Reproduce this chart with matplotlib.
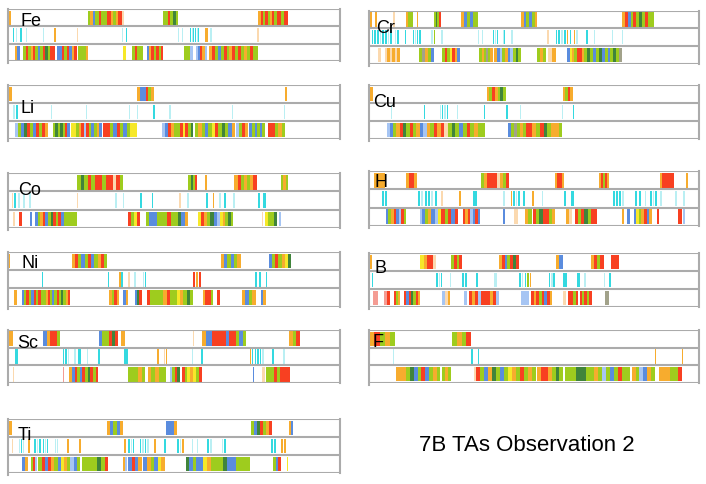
import matplotlib
matplotlib.use("Agg")
import matplotlib.pyplot as plt

# ---- colour codes used by the stripe data ----
COLORS = {
    "g": "#96c80a", "r": "#f8300e", "o": "#f7a51c", "b": "#4c82dc",
    "c": "#22d6de", "k": "#b4eef2", "y": "#f6e616", "d": "#2f7a2a",
    "l": "#9fc0f2", "p": "#fbd6a8", "m": "#9a9a80", "s": "#f4948a",
}

# ---- data: (start, end, colour sequence) on a 0..995 scale per row ----
FE_TOP = [(2, 7, "o"), (240, 347, "gobggrgggrrogorrp"), (463, 510, "ggrgdg"), (750, 840, "orgrgorgrrgrr")]
FE_MID = [(13, 17, "c"), (23, 27, "k"), (35, 41, "c"), (53, 55, "k"), (103, 107, "k"), (138, 143, "o"),
          (205, 208, "p"), (340, 345, "k"), (353, 357, "c"), (508, 512, "k"), (520, 524, "k"),
          (545, 575, "ckcckc"), (590, 600, "o"), (605, 610, "k"), (747, 751, "p")]
FE_BOT = [(20, 35, "ob"), (45, 140, "grgorgbgrdgrr"), (145, 205, "bbrgrbor"), (210, 240, "gggo"),
          (345, 353, "y"), (370, 405, "grgg"), (415, 465, "borgrgr"), (528, 555, "ggl"),
          (563, 595, "lbrol"), (603, 750, "orgbgrgorgrgogrgg")]

LI_TOP = [(0, 10, "o"), (387, 437, "obbrgo"), (830, 835, "o")]
LI_MID = [(15, 20, "k"), (23, 30, "c"), (128, 131, "k"), (233, 237, "k"), (362, 365, "k"), (385, 388, "k"),
          (435, 440, "c"), (482, 487, "k"), (672, 675, "k"), (827, 831, "k")]
LI_BOT = [(20, 120, "lgbdrgbrgro"), (133, 185, "gdgdgrb"), (188, 280, "yygorlrgbgob"), (283, 387, "rrgbrgbgyy"),
          (462, 523, "lbroggr"), (523, 555, "yrgd"), (560, 680, "gogbgyrgdgbo"), (683, 720, "lgro"),
          (723, 770, "bgbgbg"), (780, 830, "rrgog")]

CO_TOP = [(0, 3, "o"), (207, 345, "gdgrgrrgrrprg"), (540, 567, "gdgr"), (590, 595, "o"),
          (678, 745, "orgogor"), (817, 840, "gog")]
CO_MID = [(10, 15, "p"), (17, 23, "c"), (30, 35, "k"), (45, 50, "k"), (63, 67, "k"), (207, 210, "p"),
          (320, 325, "k"), (343, 347, "k"), (395, 400, "c"), (430, 435, "c"), (513, 518, "p"),
          (535, 541, "k"), (593, 598, "c"), (613, 618, "o"), (633, 637, "k"), (647, 652, "c"),
          (675, 680, "k"), (748, 755, "c"), (765, 772, "c")]
CO_BOT = [(15, 19, "p"), (33, 41, "r"), (65, 70, "b"), (80, 205, "bgorbgdrgrbggggg"), (358, 395, "rgyr"),
          (412, 433, "gb"), (435, 540, "bgggrggdbo"), (570, 595, "yro"), (597, 635, "gdbl"),
          (635, 675, "yogdg"), (760, 765, "p"), (770, 805, "yggd"), (813, 817, "l")]

NI_TOP = [(0, 5, "o"), (190, 297, "orgbgrbgorg"), (637, 697, "obgbgo"), (783, 847, "bgrgoyd")]
NI_MID = [(100, 105, "c"), (298, 303, "c"), (333, 345, "oc"), (360, 365, "p"), (378, 383, "k"),
          (403, 415, "kc"), (555, 580, "ror"), (740, 747, "c"), (753, 757, "c"), (772, 777, "c")]
NI_BOT = [(17, 25, "o"), (40, 105, "bgrgbrgrg"), (105, 185, "gorgbgrgdgor"), (303, 333, "ogro"),
          (345, 360, "bo"), (380, 400, "bdr"), (415, 555, "rggggorggyogdg"), (583, 615, "orrg"),
          (625, 635, "r"), (700, 743, "obgo"), (757, 773, "bo")]

SC_TOP = [(0, 15, "o"), (105, 155, "borrg"), (273, 330, "bggrdr"), (337, 350, "o"), (555, 558, "p"),
          (582, 713, "obbrrrrbrrgbg"), (843, 875, "ogr")]
SC_MID = [(20, 30, "c"), (163, 185, "cck"), (197, 203, "k"), (210, 217, "c"), (237, 240, "k"),
          (270, 275, "c"), (348, 358, "c"), (445, 451, "o"), (467, 477, "po"), (550, 555, "k"),
          (578, 583, "c"), (725, 735, "oc"), (740, 770, "ccck"), (790, 797, "c"), (825, 829, "k")]
SC_BOT = [(13, 17, "p"), (165, 168, "s"), (183, 270, "obrgbrgdrgr"), (360, 410, "gggog"),
          (418, 473, "ogogg"), (485, 515, "lgrd"), (520, 580, "rgyoygr"), (733, 738, "b"),
          (760, 770, "p"), (773, 797, "gg"), (797, 845, "rgrrr")]

TI_TOP = [(0, 10, "o"), (297, 343, "obgbo"), (473, 507, "bbo"), (727, 790, "gbdrgor"), (843, 853, "ob")]
TI_MID = [(10, 15, "p"), (33, 50, "kck"), (60, 65, "o"), (77, 100, "ckc"), (103, 122, "ckc"),
          (140, 150, "kk"), (177, 182, "o"), (213, 219, "o"), (347, 353, "o"), (360, 380, "ckc"),
          (395, 425, "ckck"), (437, 442, "o"), (467, 472, "c"), (507, 530, "cko"), (547, 555, "ok"),
          (565, 570, "k"), (597, 615, "ck"), (640, 655, "kc"), (788, 805, "cc"), (818, 835, "oo")]
TI_BOT = [(40, 60, "bo"), (68, 85, "grl"), (90, 215, "grbrogbyoglbg"), (220, 300, "ggggdgr"),
          (343, 355, "ol"), (360, 400, "brbo"), (405, 470, "bogbyo"), (533, 585, "dbgbb"),
          (585, 655, "yogggd"), (657, 725, "bbggg"), (795, 817, "gbr"), (835, 840, "y")]

CR_TOP = [(2, 9, "o"), (17, 22, "o"), (72, 77, "p"), (110, 132, "ogg"), (144, 148, "o"), (194, 217, "gdgr"),
          (277, 329, "obgbgg"), (457, 507, "obgbgo"), (762, 857, "orbgrgdgrgg")]
CR_MID = [(7, 72, "ccckcckc"), (77, 92, "kc"), (107, 112, "c"), (132, 157, "ckcc"), (187, 202, "kg"),
          (217, 222, "k"), (327, 332, "k"), (340, 344, "k"), (372, 392, "ckc"), (402, 412, "kc"),
          (427, 432, "k"), (537, 542, "p"), (562, 612, "cckcoc"), (617, 632, "ok"), (652, 658, "c"),
          (677, 682, "k"), (732, 736, "k"), (762, 766, "k")]
CR_BOT = [(27, 34, "p"), (47, 92, "popopo"), (150, 194, "gmogb"), (220, 272, "grgyrob"),
          (332, 372, "gogmgo"), (377, 457, "oblgoblgdg"), (507, 532, "gog"), (540, 562, "po"),
          (597, 632, "byogr"), (632, 657, "rog"), (657, 762, "dgbgdbgbgdgm")]

CU_TOP = [(2, 10, "o"), (354, 412, "ogrogdg"), (584, 614, "ogro")]
CU_MID = [(64, 67, "k"), (165, 169, "c"), (212, 240, "kckc"), (265, 268, "k"), (347, 350, "c"),
          (412, 417, "c"), (455, 458, "k"), (580, 584, "k"), (614, 618, "c")]
CU_BOT = [(52, 72, "lb"), (72, 152, "gordgrgo"), (152, 237, "blogrorp"), (237, 350, "gdgbgrgogg"),
          (417, 492, "bgmgogrr"), (492, 582, "ogrdgoog")]

H_TOP = [(14, 47, "oo"), (112, 144, "orro"), (337, 422, "gorrrpogr"), (559, 587, "orro"),
         (692, 722, "orgro"), (875, 920, "orrrr"), (954, 960, "o")]
H_MID = [(37, 57, "cc"), (147, 207, "ckcckc"), (217, 222, "p"), (270, 277, "o"), (314, 324, "c"),
         (404, 409, "k"), (427, 457, "ockc"), (464, 469, "c"), (490, 496, "o"), (520, 524, "k"),
         (587, 594, "c"), (608, 618, "c"), (734, 772, "ccck"), (802, 822, "cc"), (830, 834, "k"),
         (847, 869, "ckc"), (878, 884, "k"), (922, 927, "k"), (947, 952, "k")]
H_BOT = [(50, 112, "bgorblrg"), (152, 167, "lb"), (167, 267, "goblyrgrbr"), (282, 334, "rorlbrb"),
         (404, 409, "b"), (435, 447, "p"), (469, 490, "og"), (494, 560, "rgdrrgo"), (592, 612, "op"),
         (620, 687, "rgrdgrr"), (762, 769, "o"), (777, 787, "b"), (797, 852, "bygorbo"),
         (867, 872, "r"), (932, 942, "r"), (947, 952, "l")]

B_TOP = [(0, 7, "o"), (154, 202, "yorrp"), (247, 280, "grgr"), (390, 452, "orbgrdr"), (562, 584, "ob"),
         (667, 707, "orgr"), (730, 752, "rr")]
B_MID = [(7, 12, "c"), (202, 222, "ckc"), (242, 247, "k"), (280, 297, "cc"), (322, 328, "c"),
         (377, 384, "k"), (452, 492, "ckcgo"), (542, 562, "ckc"), (585, 597, "c"), (627, 634, "c"),
         (647, 652, "k"), (707, 712, "k"), (722, 728, "c")]
B_BOT = [(10, 27, "ss"), (44, 62, "sr"), (75, 94, "rgo"), (105, 154, "rbrdgro"), (220, 244, "lpo"),
         (287, 294, "l"), (300, 390, "rorlrrrorl"), (457, 482, "ll"), (487, 552, "rorgrbro"),
         (585, 592, "p"), (600, 630, "rrgr"), (634, 670, "rgrgr"), (712, 722, "m")]

F_TOP = [(0, 77, "orgog"), (249, 307, "gogr")]
F_MID = [(72, 75, "k"), (307, 314, "c"), (327, 332, "c"), (860, 864, "o"), (942, 946, "o")]
F_BOT = [(80, 112, "ooo"), (112, 214, "gdbgrbgog"), (220, 247, "gog"), (317, 322, "p"),
         (322, 502, "rgbodgbgyogrgog"), (507, 584, "orrogdg"), (590, 640, "ggd"),
         (640, 787, "dggoglgbgrgg"), (792, 860, "oglbog"), (874, 907, "ooo"), (907, 944, "ggr")]

LABELS = ["Fe", "Li", "Co", "Ni", "Sc", "Ti", "Cr", "Cu", "H", "B", "F"]
ROWS = [
    (FE_TOP, FE_MID, FE_BOT), (LI_TOP, LI_MID, LI_BOT), (CO_TOP, CO_MID, CO_BOT),
    (NI_TOP, NI_MID, NI_BOT), (SC_TOP, SC_MID, SC_BOT), (TI_TOP, TI_MID, TI_BOT),
    (CR_TOP, CR_MID, CR_BOT), (CU_TOP, CU_MID, CU_BOT), (H_TOP, H_MID, H_BOT),
    (B_TOP, B_MID, B_BOT), (F_TOP, F_MID, F_BOT),
]
TITLE = "7B TAs Observation 2"

# ---- layout (pixels) ----
W, H = 706, 485
PANEL_BOX = {  # x0, top, x1, bottom
    "Fe": (8.3, 10, 340, 62.3), "Li": (8.3, 85.7, 340, 140), "Co": (8.3, 174, 340, 229.3),
    "Ni": (8.3, 252.7, 340, 307.7), "Sc": (8.3, 330.7, 340, 384.3), "Ti": (8.3, 420, 340, 474),
    "Cr": (369.3, 11.7, 699.3, 65), "Cu": (369.3, 85.7, 699.3, 140), "H": (369.3, 172.3, 699.3, 226.7),
    "B": (369.3, 254, 699.3, 308.3), "F": (369.3, 331, 699.3, 384),
}
LABEL_POS = {  # left x, baseline y
    "Fe": (21, 26), "Li": (20.7, 113.3), "Co": (18.3, 195), "Ni": (21.7, 268.3), "Sc": (17, 348.3),
    "Ti": (18, 440), "Cr": (375.7, 33.3), "Cu": (373, 106.7), "H": (374, 186.7), "B": (375, 273.3),
    "F": (372.7, 346.7),
}

plt.rcParams["font.family"] = ["Liberation Sans", "DejaVu Sans"]
fig = plt.figure(figsize=(W / 100, H / 100), dpi=100)
fig.patch.set_facecolor("white")

GRID = "#ababab"
for name, rows in zip(LABELS, ROWS):
    x0, t, x1, b = PANEL_BOX[name]
    ax = fig.add_axes([x0 / W, 1 - b / H, (x1 - x0) / W, (b - t) / H])
    ax.set_xlim(0, 995)
    ax.set_ylim(3, 0)
    ax.axis("off")
    for ri, row in enumerate(rows):
        for (s, e, cols) in row:
            n = len(cols)
            wdt = (e - s) / n
            xs = [s + i * wdt for i in range(n)]
            frac = 0.6 if (ri == 1 and n > 1) else 1.0
            ax.bar(xs, [0.8] * n, width=wdt * frac, bottom=ri + 0.1, align="edge",
                   color=[COLORS[c] for c in cols], linewidth=0, alpha=0.92)
    for yv in (0, 1, 2, 3):
        ax.axhline(yv, color=GRID, lw=1.5, zorder=3)
    ax.plot([0, 0], [0, 3.1], color=GRID, lw=1.5, zorder=3, clip_on=False)
    ax.plot([995, 995], [0, 3], color=GRID, lw=1.5, zorder=3, clip_on=False)
    lx, ly = LABEL_POS[name]
    fig.text(lx / W, 1 - ly / H, name, fontsize=13, color="black", va="baseline", ha="left")

fig.text(527 / W, 1 - 450.7 / H, TITLE, fontsize=16, ha="center", va="baseline", color="black")

fig.savefig("out.png", dpi=100)
